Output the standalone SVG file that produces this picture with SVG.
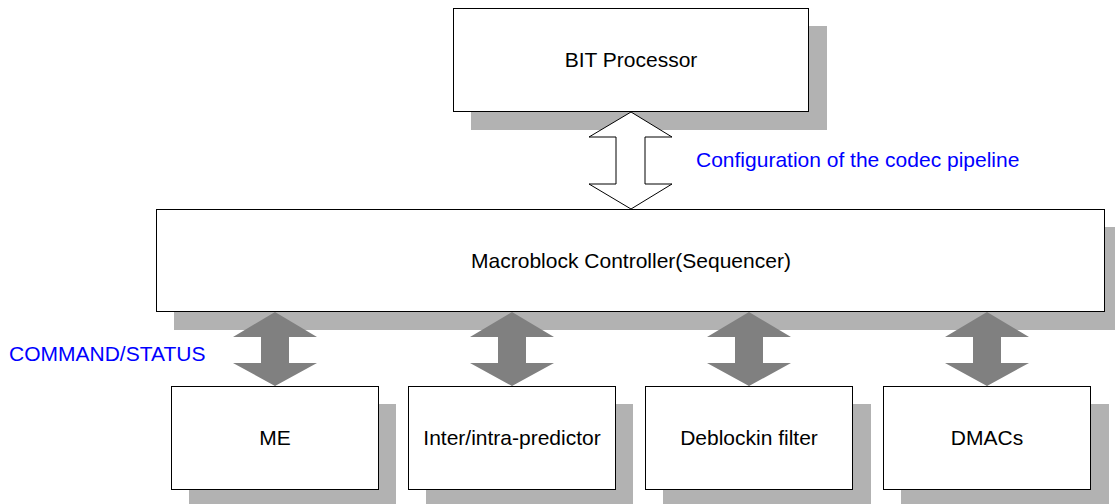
<svg xmlns="http://www.w3.org/2000/svg" width="1115" height="504" viewBox="0 0 1115 504">
<style>
.shadow{fill:#b2b2b2}
.box{fill:#fff;stroke:#000;stroke-width:1}
.lbl{font-family:"Liberation Sans",Arial,sans-serif;font-size:21px;fill:#000;text-anchor:middle}
.blue{font-family:"Liberation Sans",Arial,sans-serif;font-size:21px;fill:#0000ff}
.garrow{fill:#808080}
.harrow{fill:#fff;stroke:#000;stroke-width:1}
</style>
<rect width="1115" height="504" fill="#fff"/>
<g id="bit">
<rect class="shadow" x="471" y="26" width="356" height="104"/>
<rect class="box" x="453.5" y="8.5" width="355" height="103"/>
<text class="lbl" x="631" y="67">BIT Processor</text>
</g>
<g id="mbc">
<rect class="shadow" x="174" y="227" width="945" height="103"/>
<rect class="box" x="156.5" y="209.5" width="948" height="102"/>
<text class="lbl" x="631" y="268">Macroblock Controller(Sequencer)</text>
</g>
<g id="me">
<rect class="shadow" x="189" y="404" width="207" height="110"/>
<rect class="box" x="171.5" y="386.5" width="207" height="103"/>
<text class="lbl" x="275" y="445">ME</text>
</g>
<g id="inter">
<rect class="shadow" x="426" y="404" width="207" height="110"/>
<rect class="box" x="408.5" y="386.5" width="207" height="103"/>
<text class="lbl" x="512" y="445">Inter/intra-predictor</text>
</g>
<g id="deblock">
<rect class="shadow" x="663" y="404" width="208" height="110"/>
<rect class="box" x="645.5" y="386.5" width="207" height="103"/>
<text class="lbl" x="749" y="445">Deblockin filter</text>
</g>
<g id="dmacs">
<rect class="shadow" x="901" y="404" width="208" height="110"/>
<rect class="box" x="883.5" y="386.5" width="207" height="103"/>
<text class="lbl" x="987" y="445">DMACs</text>
</g>
<g id="connectors">
<polygon class="harrow" points="631,112 672,137 645,137 645,184 672,184 631,209 589,184 616,184 616,137 589,137"/>
<polygon class="garrow" points="275,312 317,337 289,337 289,363 317,363 275,386 233,363 261,363 261,337 233,337"/>
<polygon class="garrow" points="512,312 554,337 526,337 526,363 554,363 512,386 470,363 498,363 498,337 470,337"/>
<polygon class="garrow" points="749,312 791,337 763,337 763,363 791,363 749,386 707,363 735,363 735,337 707,337"/>
<polygon class="garrow" points="987,312 1029,337 1001,337 1001,363 1029,363 987,386 945,363 973,363 973,337 945,337"/>
</g>
<text class="blue" x="696" y="167">Configuration of the codec pipeline</text>
<text class="blue" x="9" y="361">COMMAND/STATUS</text>
</svg>
